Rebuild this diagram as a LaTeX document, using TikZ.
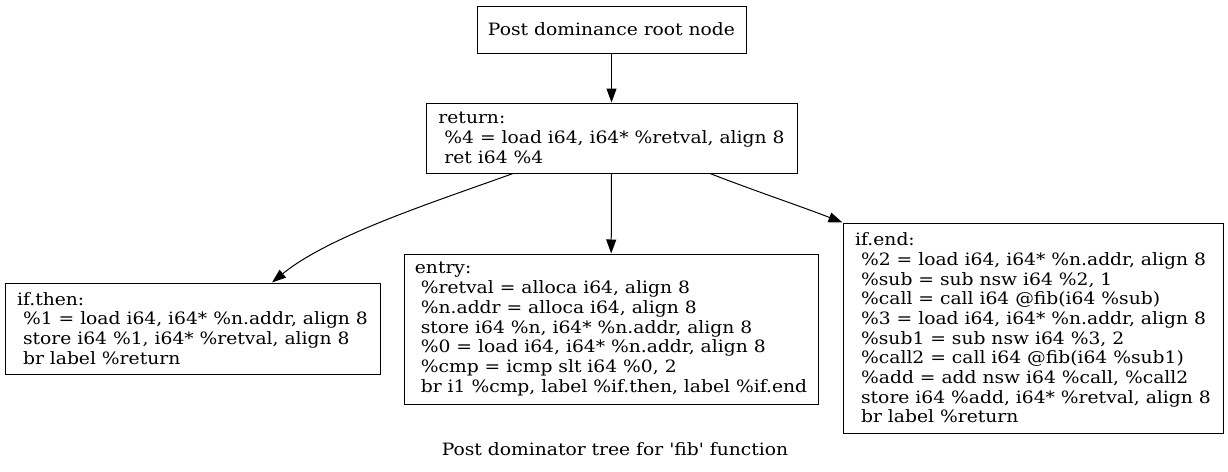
\documentclass[tikz,border=0pt]{standalone}
\usepackage{fontspec}
\setmainfont{DejaVu Serif}[FakeStretch=1.1, Ligatures=TeXOff]
\usetikzlibrary{arrows.meta}
\tikzset{
  blk/.style={draw, line width=1pt, align=left, inner sep=0pt,
    font=\fontsize{17}{19.7}\selectfont},
  edge/.style={line width=1pt, -{Triangle[length=14pt,width=10pt]}},
}
\begin{document}
\begin{tikzpicture}[x=1pt,y=-1pt]
\useasboundingbox (0,0) rectangle (1228,471);
\node[blk, minimum width=269pt, minimum height=47pt, align=center] (root) at (611.5,29.5) {Post dominance root node};
\node[blk, minimum width=371pt, minimum height=70pt] (ret) at (611.5,138) {return:\\
\ \%4 = load i64, i64* \%retval, align 8\\
\ ret i64 \%4};
\node[blk, minimum width=375pt, minimum height=91pt] (then) at (192.5,328.5) {if.then:\\
\ \%1 = load i64, i64* \%n.addr, align 8\\
\ store i64 \%1, i64* \%retval, align 8\\
\ br label \%return};
\node[blk, minimum width=414pt, minimum height=150pt] (entry) at (611,329) {entry:\\
\ \%retval = alloca i64, align 8\\
\ \%n.addr = alloca i64, align 8\\
\ store i64 \%n, i64* \%n.addr, align 8\\
\ \%0 = load i64, i64* \%n.addr, align 8\\
\ \%cmp = icmp slt i64 \%0, 2\\
\ br i1 \%cmp, label \%if.then, label \%if.end};
\node[blk, minimum width=380pt, minimum height=210pt] (end) at (1033,328) {if.end:\\
\ \%2 = load i64, i64* \%n.addr, align 8\\
\ \%sub = sub nsw i64 \%2, 1\\
\ \%call = call i64 @fib(i64 \%sub)\\
\ \%3 = load i64, i64* \%n.addr, align 8\\
\ \%sub1 = sub nsw i64 \%3, 2\\
\ \%call2 = call i64 @fib(i64 \%sub1)\\
\ \%add = add nsw i64 \%call, \%call2\\
\ store i64 \%add, i64* \%retval, align 8\\
\ br label \%return};
\node[font=\fontsize{17}{19.7}\selectfont, inner sep=0pt] (cap) at (615,449) {Post dominator tree for 'fib' function};
\coordinate (rl) at ([xshift=-98.5pt]ret.south);
\coordinate (rr) at ([xshift=98.5pt]ret.south);
\coordinate (tl) at ([xshift=79.5pt]then.north);
\draw[edge] (root) -- (ret);
\draw[edge] (ret) -- (entry);
\draw[edge] (rl) .. controls (440,200) and (330,235) .. (tl);
\draw[edge] (rr) .. controls (755,191) and (800,206) .. (end.north west);
\end{tikzpicture}
\end{document}
